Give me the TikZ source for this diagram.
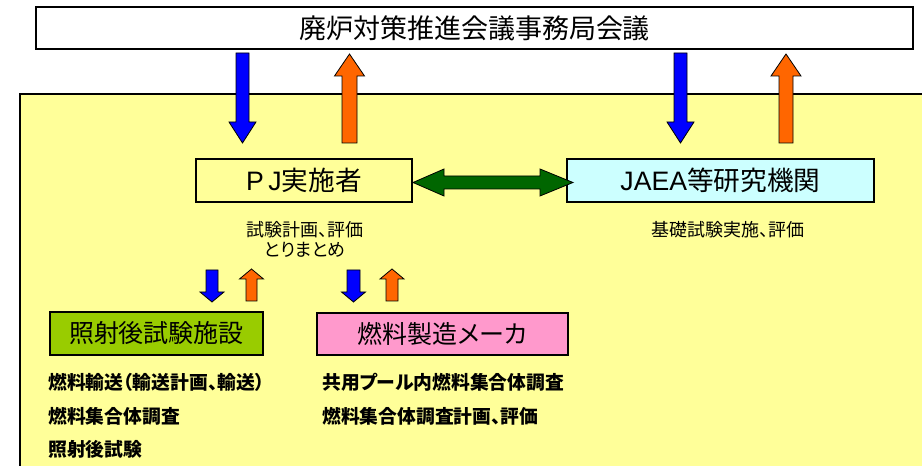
\documentclass[tikz,border=0pt]{standalone}
\usepackage{fontspec}
\setmainfont{Noto Sans CJK JP}[RawFeature=+palt]
\newfontfamily\latinsf{Liberation Sans}
\definecolor{ylw}{HTML}{FFFF99}
\definecolor{arrblue}{HTML}{0000FF}
\definecolor{arrorange}{HTML}{FF6600}
\definecolor{arrgreen}{HTML}{006600}
\definecolor{jaeacyan}{HTML}{CCFFFF}
\definecolor{facgreen}{HTML}{99CC00}
\definecolor{makerpink}{HTML}{FF99CC}
\newcommand\myVArrow[7]{%
  \filldraw[blockarrow, fill=#7] ({#1-#5},#2) -- ({#1-#5},#3) -- ({#1-#6},#3) -- (#1,#4)
    -- ({#1+#6},#3) -- ({#1+#5},#3) -- ({#1+#5},#2) -- cycle;}
\begin{document}
\begin{tikzpicture}[x=0.75pt, y=-0.75pt,
  box/.style={draw=black, line width=1.5pt, inner sep=0pt, align=center},
  blockarrow/.style={draw=black, line width=0.6pt, line join=miter},
  plain/.style={inner sep=0pt, font=\fontsize{13.5pt}{16pt}\selectfont},
  boldtxt/.style={inner sep=0pt, anchor=west, font=\fontsize{14.1pt}{16pt}\selectfont\bfseries}]
\useasboundingbox (0,0) rectangle (922,466);
\clip (0,0) rectangle (922,466);
\fill[white] (0,0) rectangle (922,466);
% yellow area
\filldraw[fill=ylw, draw=black, line width=1.5pt] (20,94) rectangle (940,490);
% top box
\node[box, fill=white, minimum width=657.75pt, minimum height=31.5pt,
  font=\fontsize{20.25pt}{24pt}\selectfont] (top) at (474.5,28) {廃炉対策推進会議事務局会議};
% main boxes
\node[box, fill=ylw, minimum width=162pt, minimum height=32.25pt,
  font=\fontsize{20pt}{24pt}\selectfont] (pj) at (304,180.5) {{\latinsf P\,J}実施者};
\node[box, fill=jaeacyan, minimum width=230.25pt, minimum height=32.25pt,
  font=\fontsize{20pt}{24pt}\selectfont] (jaea) at (720.5,180.5) {{\latinsf JAEA}等研究機関};
\node[box, fill=facgreen, minimum width=159.75pt, minimum height=32.25pt,
  font=\fontsize{18.75pt}{22pt}\selectfont] (fac) at (156.5,333.5) {照射後試験施設};
\node[box, fill=makerpink, minimum width=188.25pt, minimum height=31.5pt,
  font=\fontsize{18.75pt}{22pt}\selectfont] (maker) at (442.5,334) {燃料製造メーカ};
% descriptions
\node[plain] (pjd1) at (305,230) {試験計画、評価};
\node[plain] (pjd2) at (305,250) {とりまとめ};
\node[plain] (jaead) at (728,230) {基礎試験実施、評価};
\node[boldtxt] (f1) at (48,382) {燃料輸送（輸送計画、輸送）};
\node[boldtxt] (f2) at (48,416) {燃料集合体調査};
\node[boldtxt] (f3) at (48,449) {照射後試験};
\node[boldtxt] (m1) at (322,382) {共用プール内燃料集合体調査};
\node[boldtxt] (m2) at (322,416) {燃料集合体調査計画、評価};
% big vertical arrows
\myVArrow{242.5}{53}{122}{143}{6.5}{13.5}{arrblue}
\myVArrow{349.5}{143}{76}{54}{7.5}{15}{arrorange}
\myVArrow{680.5}{53}{122}{143}{6.5}{13.5}{arrblue}
\myVArrow{786}{143}{76}{54}{7}{15}{arrorange}
% small vertical arrows
\myVArrow{212}{270}{292}{302}{6}{12}{arrblue}
\myVArrow{251.5}{301}{279}{269}{5.5}{12}{arrorange}
\myVArrow{353.5}{270}{292}{302}{6.5}{12}{arrblue}
\myVArrow{392}{301}{279}{269}{6}{12}{arrorange}
% green double arrow between pj and jaea
\filldraw[blockarrow, fill=arrgreen] (413,182.5) -- (444,169) -- (444,176) -- (540,176) -- (540,169)
  -- (573,182.5) -- (540,196) -- (540,189) -- (444,189) -- (444,196) -- cycle;
\end{tikzpicture}
\end{document}
